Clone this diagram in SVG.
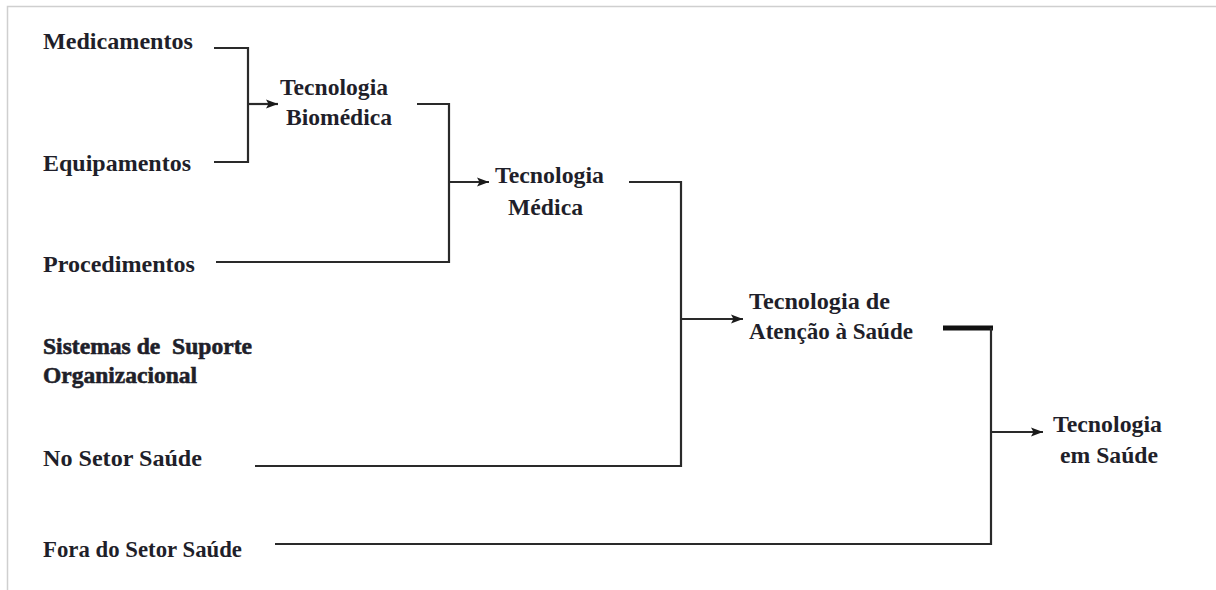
<svg xmlns="http://www.w3.org/2000/svg" width="1216" height="590" viewBox="0 0 1216 590">
<style>
.t{font-family:"Liberation Serif","DejaVu Serif",serif;font-size:24px;font-weight:bold;fill:#1f1f2a;}
.b{stroke:#1f1f2a;stroke-width:0.6;}
.c{fill:none;stroke:#2a2a2a;stroke-width:2.2;}
.frame{fill:none;stroke:#cfcfcf;stroke-width:1.5;}
</style>
<defs>
<marker id="ah" viewBox="0 0 12 10" refX="12" refY="5" markerWidth="12" markerHeight="10" markerUnits="userSpaceOnUse" orient="auto">
<path d="M0,0.5 L12,5 L0,9.5 L2.5,5 Z" fill="#1a1a1a"/>
</marker>
</defs>
<path class="frame" d="M7.5,590 V6.5 H1216"/>
<g id="connectors">
<path class="c" d="M214,48 H248 V162 H214"/>
<path class="c" d="M248,104 H278" marker-end="url(#ah)"/>
<path class="c" d="M417,104 H449 V262 H216"/>
<path class="c" d="M449,182 H489" marker-end="url(#ah)"/>
<path class="c" d="M629,182 H681 V466 H255"/>
<path class="c" d="M681,319 H743" marker-end="url(#ah)"/>
<path d="M943,328 H993" stroke="#111" stroke-width="5" fill="none"/>
<path class="c" d="M991,328 V544 H275"/>
<path class="c" d="M991,432 H1043" marker-end="url(#ah)"/>
</g>
<g id="medicamentos"><text class="t" x="43" y="49" textLength="150" lengthAdjust="spacingAndGlyphs">Medicamentos</text></g>
<g id="equipamentos"><text class="t" x="43" y="171" textLength="148" lengthAdjust="spacingAndGlyphs">Equipamentos</text></g>
<g id="procedimentos"><text class="t" x="43" y="272" textLength="152" lengthAdjust="spacingAndGlyphs">Procedimentos</text></g>
<g id="tec-biomedica">
<text class="t" x="280" y="95" textLength="108" lengthAdjust="spacingAndGlyphs">Tecnologia</text>
<text class="t" x="286" y="125" textLength="106" lengthAdjust="spacingAndGlyphs">Biomédica</text>
</g>
<g id="tec-medica">
<text class="t" x="495" y="183" textLength="109" lengthAdjust="spacingAndGlyphs">Tecnologia</text>
<text class="t" x="508" y="215" textLength="75" lengthAdjust="spacingAndGlyphs">Médica</text>
</g>
<g id="tec-atencao">
<text class="t" x="749" y="309" textLength="141" lengthAdjust="spacingAndGlyphs">Tecnologia de</text>
<text class="t" x="749" y="339" textLength="164" lengthAdjust="spacingAndGlyphs">Atenção à Saúde</text>
</g>
<g id="sistemas">
<text class="t b" x="43" y="354" textLength="209" lengthAdjust="spacingAndGlyphs" xml:space="preserve">Sistemas de  Suporte</text>
<text class="t b" x="43" y="383" textLength="154" lengthAdjust="spacingAndGlyphs">Organizacional</text>
</g>
<g id="no-setor"><text class="t" x="43" y="466" textLength="159" lengthAdjust="spacingAndGlyphs">No Setor Saúde</text></g>
<g id="fora-setor"><text class="t" x="43" y="557" textLength="199" lengthAdjust="spacingAndGlyphs">Fora do Setor Saúde</text></g>
<g id="tec-saude">
<text class="t" x="1053" y="432" textLength="109" lengthAdjust="spacingAndGlyphs">Tecnologia</text>
<text class="t" x="1060" y="463" textLength="98" lengthAdjust="spacingAndGlyphs">em Saúde</text>
</g>
</svg>
